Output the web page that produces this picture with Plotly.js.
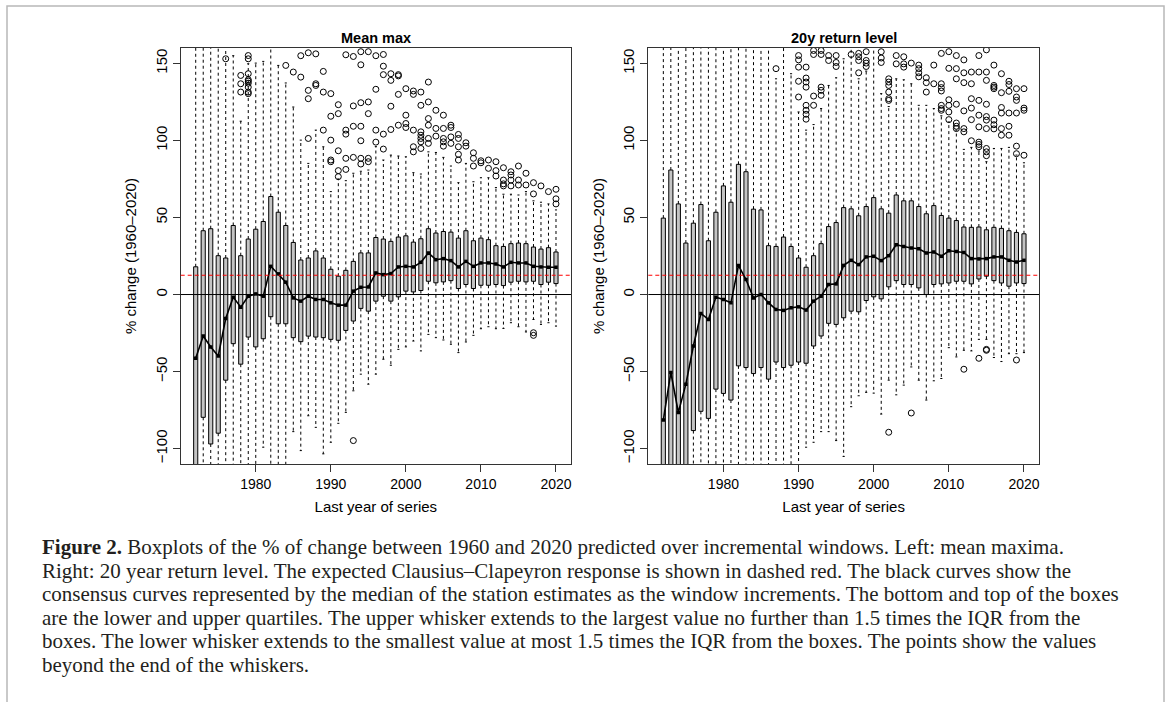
<!DOCTYPE html>
<html>
<head>
<meta charset="utf-8">
<script src="https://cdn.plot.ly/plotly-3.0.1.min.js"></script>
<style>
  html, body { margin: 0; padding: 0; background: #ffffff; }
  #chart { width: 1168px; height: 702px; }
</style>
</head>
<body>
<div id="chart"></div>
<script>
// ---------------- DATA ----------------
const YEARS = [1972,1973,1974,1975,1976,1977,1978,1979,1980,1981,1982,1983,1984,1985,1986,1987,1988,1989,1990,1991,1992,1993,1994,1995,1996,1997,1998,1999,2000,2001,2002,2003,2004,2005,2006,2007,2008,2009,2010,2011,2012,2013,2014,2015,2016,2017,2018,2019,2020];
const X_TICKS = [1980, 1990, 2000, 2010, 2020];
const Y_TICKS = [-100, -50, 0, 50, 100, 150];
const CC_RESPONSE = 12.5;   // expected Clausius–Clapeyron response (%)
const ZERO_LINE = 0;

// Left panel: Mean max
const MM_LO  = [-125,-125,-125,-125,-125,-125,-125,-125,-125,-99.1,-125,-125,-125,-89,-101.3,-78.7,-86.2,-103.4,-95.9,-83.6,-76.5,-62.5,-51.7,-58.2,-51.7,-42,-45.9,-35.6,-34,-30.2,-36.6,-25.9,-28,-29.5,-32.3,-37.7,-30.8,-26.5,-22.2,-20.9,-22.2,-22,-18.3,-20.9,-24.3,-16.2,-19.4,-18.3,-20.5];
const MM_Q1  = [-125,-79.7,-97,-90,-55.6,-31.9,-45.2,-27.6,-34,-28.7,-14.4,-19,-19,-28,-30.6,-27,-27.6,-28,-29.1,-29.7,-23.3,-17.2,-9,-10.8,-4.3,-1.1,-4.3,-1.5,2.2,1.7,2.6,8.6,7.6,8.2,9,3.9,6.5,3.9,6,6,6.5,5.8,8,8.6,8.2,8.6,6.5,8,7.1];
const MM_MED = [-41.4,-26.9,-34,-39.9,-15.5,-1.7,-8.2,-1.1,0.4,-1.1,18.3,13.4,8,-2.2,-4.3,-1.1,-3.2,-3.2,-5.4,-6.9,-6.9,2.2,4.7,4.9,14,12.9,13.6,17.9,18.3,17.9,20.9,27,22.6,23.3,22,17.9,21.5,18.3,20.5,20.5,19.8,17.9,20.9,20.5,20.5,18.3,17.9,17.7,17.7];
const MM_Q3  = [18,41.4,42.7,25.2,23.7,44.8,25.2,36,42.4,47.4,63.6,53.4,44.8,33.8,22.4,23.7,28.3,23.7,16.4,11.9,15.7,21.5,27,27,37,36,34.5,37.3,38.1,34,36.2,42.7,39.9,40.9,40.5,36.6,41.4,34.9,36.6,35.6,31.7,31.2,33,33.4,33,30.8,29.5,30.4,27.6];
const MM_HI  = [175,175,175,175,175,155,112.5,149.8,150.2,151.3,175,148.7,137.3,121.7,100.2,85.1,106.7,95.9,66.8,75,73.9,78.7,80,80.8,96,87.3,90.5,89.9,89.4,79.1,78.2,92.6,92.2,89,83.4,72.6,85.1,73.2,75.8,75.8,69.4,65.1,65.1,64.6,66.8,60.8,59.9,58.8,54.9];
const MM_OUT_YEAR = [1976,1978,1978,1978,1979,1979,1979,1979,1979,1979,1979,1979,1979,1984,1985,1986,1986,1987,1987,1987,1987,1988,1988,1988,1989,1989,1989,1990,1990,1990,1990,1990,1991,1991,1991,1991,1991,1992,1992,1992,1992,1992,1993,1993,1993,1993,1993,1994,1994,1994,1994,1994,1994,1994,1995,1995,1995,1995,1995,1996,1996,1996,1996,1997,1997,1997,1997,1997,1998,1998,1998,1998,1999,1999,1999,1999,2000,2000,2000,2000,2001,2001,2001,2001,2001,2002,2002,2002,2002,2002,2002,2002,2003,2003,2003,2003,2003,2003,2004,2004,2004,2005,2005,2005,2005,2005,2006,2006,2006,2006,2007,2007,2007,2007,2007,2008,2008,2009,2009,2009,2010,2010,2011,2011,2012,2012,2012,2013,2013,2013,2013,2014,2014,2014,2014,2015,2015,2015,2016,2016,2017,2017,2017,2017,2018,2019,2020,2020,2020];
const MM_OUT_VAL  = [153,142.2,136.8,131.4,155.1,153,143.3,139.4,138.5,137.2,134.6,131.4,130.4,148.7,144.4,155,141.1,156.9,132.5,127.1,101.3,156.2,135.7,136.8,144.8,131.4,106.7,130.4,115.7,100.2,87.3,86.2,123.2,117.4,93.3,80.4,76.5,155.6,106.7,104.1,88.4,81.2,154.5,122.4,109.2,89,-94.8,157.6,149.1,124.5,109.2,99.8,88.4,84.7,157.6,125,117.4,88.4,86.2,155,133.2,106.7,98.9,155.8,148.2,142.7,104.1,94.4,143.3,139,122.2,107.1,142.7,141.9,129.9,109.9,133.6,116.4,111,108.4,132.1,129.9,106.7,95.9,92.6,131.4,122.8,105.6,103.4,101.3,99.1,94.8,137.9,125,114.2,109.9,101.3,98.1,119.6,107.8,102.8,116.4,107.8,101.3,99.1,96.3,109.9,108.4,102.3,98.1,103.9,101.3,95.9,91,87.3,98.5,96.3,92,88.4,83.4,86.8,85.5,87.3,81.9,86.2,80.4,76.9,82.3,74.3,71.8,70.5,79.7,77.6,74.3,70.5,83.4,74.3,71.1,78.7,71.1,72.6,65.3,-24.8,-26.5,70.5,66.8,68.3,62.1,58.8];

// Right panel: 20y return level
const RL_LO  = [-125,-125,-125,-125,-125,-125,-125,-125,-125,-125,-125,-125,-125,-125,-125,-125,-125,-125,-125,-99.1,-95.9,-89,-89,-94.8,-105.1,-72.8,-65.7,-63.5,-64,-77.6,-55.6,-65.1,-58.8,-47,-55.6,-68.5,-56,-54.5,-34.5,-40.5,-36.2,-36.6,-29.1,-29.1,-40.9,-43.5,-38.4,-38.4,-37.7];
const RL_Q1  = [-125,-125,-125,-125,-88.3,-75.8,-80.4,-61.4,-64.2,-68.5,-46.3,-47.4,-51.3,-47.4,-54.9,-43.8,-47.4,-45.9,-43.8,-44.6,-33.4,-26.9,-18.7,-19.4,-15.1,-10.8,-11.2,-3.9,-1.5,-2.8,5,9,6.5,6.5,4.3,0,6.5,6.9,7.5,8.6,8.6,6.9,10.1,11.9,9,7.5,5.4,7.5,7.1];
const RL_MED = [-81.5,-50.6,-76.5,-58.2,-33.4,-12.3,-16.2,-1.7,-3.2,-5.4,18.9,9.7,-2.2,0,-5.4,-9.7,-10.3,-8.6,-8,-10.1,-4.3,-1.1,6.5,6.9,18.9,22.2,19.4,24.4,24.8,22,25.2,32.3,31.2,30.2,29.7,27,27.6,24.8,28.4,28,27.3,23.3,23.1,23.3,24.4,24.4,22.2,21.1,22.2];
const RL_Q3  = [49.6,80.8,58.8,33.4,46.3,58.4,34.9,53.4,70.5,59.9,84.5,79.7,55.4,54.9,31.7,31.2,37.3,31.2,23.7,17.7,25.2,33,44.1,46.7,56.4,55.6,51.1,57.1,62.9,55.6,52.8,64.6,60.8,60.8,57.1,52.4,57.7,51.3,49.6,48,43.8,43.6,43.8,42,43.6,42.9,41.4,40.3,39.4];
const RL_HI  = [175,175,175,175,175,175,175,175,175,175,175,175,175,175,175,140,175,143.3,118.5,106.7,110.3,120.7,135.7,140.7,153,175,140,145,175,130.4,122,140,139.4,136.8,122.8,122.8,120.7,116,112,106.7,94.2,95.5,93.1,86.2,94.8,94.8,95.5,90.5,85.5];
const RL_OUT_YEAR = [1987,1990,1990,1990,1990,1990,1991,1991,1991,1991,1991,1991,1991,1991,1992,1992,1992,1992,1993,1993,1993,1993,1993,1994,1994,1995,1995,1995,1997,1998,1998,1998,1998,1999,1999,1999,1999,2001,2001,2001,2002,2002,2002,2002,2002,2002,2002,2003,2003,2004,2004,2004,2005,2005,2006,2006,2006,2006,2007,2007,2007,2008,2008,2009,2009,2009,2009,2009,2009,2009,2010,2010,2010,2010,2010,2010,2011,2011,2011,2011,2011,2011,2011,2012,2012,2012,2012,2012,2012,2012,2013,2013,2013,2013,2013,2013,2014,2014,2014,2014,2014,2014,2014,2014,2014,2015,2015,2015,2015,2015,2015,2015,2015,2015,2015,2015,2015,2016,2016,2016,2016,2016,2016,2016,2017,2017,2017,2017,2017,2017,2018,2018,2018,2018,2018,2018,2019,2019,2019,2019,2019,2019,2019,2020,2020,2020,2020];
const RL_OUT_VAL  = [146.6,155.1,152.3,147.6,138.4,128.2,147.6,140.5,137.9,134.6,122.8,119.6,117,113.8,155.8,158.4,128.8,122.8,158.4,155.8,134.6,132.5,129.3,155.1,151.9,155.1,150.6,148,155.8,156.5,154.3,151.9,143.9,157.6,151.9,150.2,148,157.6,153.5,150.6,140,137.9,135.7,131.4,127.1,126,-89.4,155.1,149.7,154.3,149.7,147.6,150.2,-76.9,148.9,146.6,143.9,141.3,140.7,137.5,131.4,148.9,136.8,156.5,136.8,134.3,132.1,122.8,120.7,119.6,157.6,146.8,126.4,122.8,118.5,113.5,155.1,146.6,140,123.5,111.3,109.2,107.7,152.3,143.9,137.5,119.2,107.7,105.6,-48.5,144.4,136.8,127.1,121,113.5,99.8,155.1,144.4,126,116.4,108.8,98.9,97.4,95.9,-41.4,158.8,144.4,139,123.5,115.5,113.2,107.7,94.8,92.6,90.1,-35.6,-36.2,148.9,135.7,134.6,133.6,113.2,110.2,107.5,143.3,131,121.4,117.8,107.7,103.4,138.4,136.3,131.9,117.8,109.2,103.4,133.6,128.2,126,117.8,96.3,91.4,-42.5,133.6,121,119.6,90.4];

const PANEL_TITLES = ['Mean max', '20y return level'];
const X_TITLE = 'Last year of series';
const Y_TITLE = '% change (1960–2020)';
const CAPTION_LINES = [
  '<b>Figure 2.</b> Boxplots of the % of change between 1960 and 2020 predicted over incremental windows. Left: mean maxima.',
  'Right: 20 year return level. The expected Clausius–Clapeyron response is shown in dashed red. The black curves show the',
  'consensus curves represented by the median of the station estimates as the window increments. The bottom and top of the boxes',
  'are the lower and upper quartiles. The upper whisker extends to the largest value no further than 1.5 times the IQR from the',
  'boxes. The lower whisker extends to the smallest value at most 1.5 times the IQR from the boxes. The points show the values',
  'beyond the end of the whiskers.'
];

// ---------------- STYLE ----------------
const W = 1168, H = 702;
const BOX_W = 0.55, STAPLE_HALF = 0.14;
const FONT = 'Liberation Sans, Arial, sans-serif';
const SERIF = 'Liberation Serif, Times New Roman, serif';
const px = v => v / W;
const py = v => 1 - v / H;

function panelTraces(xa, ya, lo, q1, med, q3, hi, outYear, outVal) {
  const wx = [], wy = [], sx = [], sy = [];
  YEARS.forEach((yr, i) => {
    wx.push(yr, yr, null, yr, yr, null);
    wy.push(q3[i], hi[i], null, q1[i], lo[i], null);
    sx.push(yr - STAPLE_HALF, yr + STAPLE_HALF, null, yr - STAPLE_HALF, yr + STAPLE_HALF, null);
    sy.push(hi[i], hi[i], null, lo[i], lo[i], null);
  });
  return [
    { type: 'scatter', mode: 'lines', x: wx, y: wy, xaxis: xa, yaxis: ya,
      line: { color: '#000', width: 1, dash: '3px,3px' }, hoverinfo: 'skip', showlegend: false },
    { type: 'scatter', mode: 'lines', x: sx, y: sy, xaxis: xa, yaxis: ya,
      line: { color: '#000', width: 1 }, hoverinfo: 'skip', showlegend: false },
    { type: 'bar', x: YEARS, base: q1, y: q3.map((v, i) => v - q1[i]), width: BOX_W,
      xaxis: xa, yaxis: ya, marker: { color: '#c4c4c4', line: { color: '#000', width: 1 } },
      hoverinfo: 'skip', showlegend: false },
    { type: 'scatter', mode: 'markers', x: outYear, y: outVal, xaxis: xa, yaxis: ya,
      marker: { symbol: 'circle-open', size: 6, color: '#000', line: { width: 1, color: '#000' } },
      hoverinfo: 'skip', showlegend: false, cliponaxis: true },
    { type: 'scatter', mode: 'lines+markers', x: YEARS, y: med, xaxis: xa, yaxis: ya,
      line: { color: '#000', width: 1.6 }, marker: { symbol: 'square', size: 3.5, color: '#000' },
      hoverinfo: 'skip', showlegend: false }
  ];
}

const traces = [].concat(
  panelTraces('x', 'y', MM_LO, MM_Q1, MM_MED, MM_Q3, MM_HI, MM_OUT_YEAR, MM_OUT_VAL),
  panelTraces('x2', 'y2', RL_LO, RL_Q1, RL_MED, RL_Q3, RL_HI, RL_OUT_YEAR, RL_OUT_VAL)
);

const LEFT = [180.7, 571], RIGHT = [648.3, 1039], TOP = 48, BOTTOM = 464;

function xAxis(dom, anchor) {
  return {
    domain: [px(dom[0]), px(dom[1])], anchor: anchor, range: [1970, 2022],
    tickvals: X_TICKS, ticks: 'outside', ticklen: 7, tickwidth: 1, tickcolor: '#333',
    showline: true, mirror: true, linecolor: '#333', linewidth: 1,
    showgrid: false, zeroline: false,
    tickfont: { family: FONT, size: 14, color: '#000' },
    title: { text: X_TITLE, font: { family: FONT, size: 15, color: '#000' }, standoff: 10 }
  };
}
function yAxis(anchor) {
  return {
    domain: [py(BOTTOM), py(TOP)], anchor: anchor, range: [-110, 160],
    tickvals: Y_TICKS, tickangle: -90, ticks: 'outside', ticklen: 7, tickwidth: 1, tickcolor: '#333',
    showline: true, mirror: true, linecolor: '#333', linewidth: 1,
    showgrid: false, zeroline: false,
    tickfont: { family: FONT, size: 15, color: '#000' },
    title: { text: Y_TITLE, font: { family: FONT, size: 15, color: '#000' }, standoff: 12 }
  };
}

const shapes = [];
['x', 'x2'].forEach((xr, i) => {
  const yr = i === 0 ? 'y' : 'y2';
  shapes.push({ type: 'line', xref: xr + ' domain', yref: yr, x0: 0, x1: 1, y0: ZERO_LINE, y1: ZERO_LINE,
    line: { color: '#000', width: 1 }, layer: 'above' });
  shapes.push({ type: 'line', xref: xr + ' domain', yref: yr, x0: 0, x1: 1, y0: CC_RESPONSE, y1: CC_RESPONSE,
    line: { color: '#ff0000', width: 1.2, dash: '4px,3px' }, layer: 'above' });
});
// figure frame
shapes.push({ type: 'rect', xref: 'paper', yref: 'paper', x0: px(7), x1: px(1164), y0: -0.1, y1: py(6),
  line: { color: '#b8b8b8', width: 1.5 }, fillcolor: 'rgba(0,0,0,0)', layer: 'below' });

const annotations = [
  { text: '<b>' + PANEL_TITLES[0] + '</b>', xref: 'paper', yref: 'paper', x: px((LEFT[0] + LEFT[1]) / 2), y: py(38.5),
    xanchor: 'center', yanchor: 'middle', showarrow: false, font: { family: FONT, size: 14.5, color: '#000' } },
  { text: '<b>' + PANEL_TITLES[1] + '</b>', xref: 'paper', yref: 'paper', x: px((RIGHT[0] + RIGHT[1]) / 2), y: py(38.5),
    xanchor: 'center', yanchor: 'middle', showarrow: false, font: { family: FONT, size: 14.5, color: '#000' } }
];
const CAP_Y = [547, 570.5, 594, 617.5, 641, 664.5];
CAPTION_LINES.forEach((t, i) => {
  annotations.push({ text: t, xref: 'paper', yref: 'paper', x: px(40), y: py(CAP_Y[i]),
    xanchor: 'left', yanchor: 'middle', align: 'left', showarrow: false,
    font: { family: SERIF, size: 21, color: '#231f20' } });
});

const layout = {
  width: W, height: H, margin: { l: 0, r: 0, t: 0, b: 0 },
  paper_bgcolor: '#fff', plot_bgcolor: '#fff',
  showlegend: false, barmode: 'overlay',
  xaxis: xAxis(LEFT, 'y'), yaxis: yAxis('x'),
  xaxis2: xAxis(RIGHT, 'y2'), yaxis2: yAxis('x2'),
  shapes: shapes, annotations: annotations
};

Plotly.newPlot('chart', traces, layout, { staticPlot: true, displayModeBar: false });
</script>
</body>
</html>
